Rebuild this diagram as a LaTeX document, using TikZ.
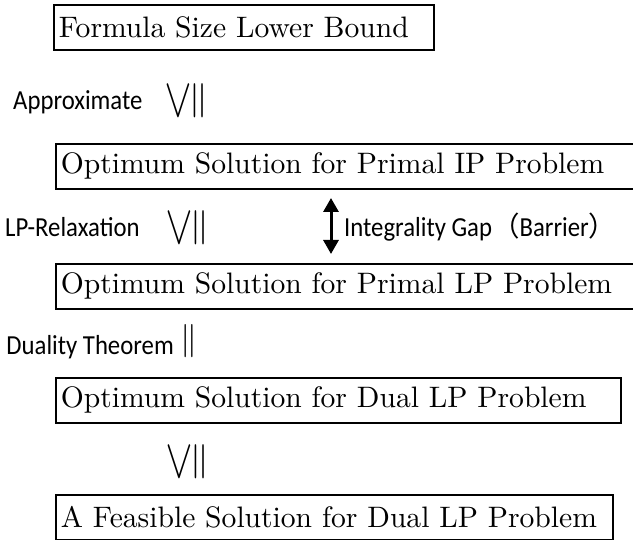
\documentclass[tikz,border=0pt]{standalone}
\usepackage{amssymb}
\usepackage{fontspec}
\newfontfamily\boxfont{lmroman10-regular.otf}
\newfontfamily\carlito{Carlito}[FakeStretch=0.9]
\newfontfamily\cjkfont{Noto Sans CJK JP}
\usetikzlibrary{arrows.meta}
\tikzset{
  boxnode/.style={draw, line width=1.6pt, anchor=north west, minimum height=45pt,
    inner xsep=5pt, inner ysep=0pt, align=left,
    font=\boxfont\fontsize{29.6}{32}\selectfont},
  lab/.style={font=\carlito\fontsize{27.5}{30}\selectfont, inner sep=0pt},
  relsym/.style={inner sep=0pt},
  gaparrow/.style={line width=3pt, {Triangle[length=14pt,width=15pt]}-{Triangle[length=14pt,width=15pt]}}
}
\newcommand{\geqv}{\scalebox{3.9}[5.6]{\rotatebox{90}{$\leqq$}}}
\newcommand{\eqv}{\scalebox{3.4}[5]{\rotatebox{90}{$=$}}}
\begin{document}
\begin{tikzpicture}[x=1pt,y=-1pt]
\useasboundingbox (0,0) rectangle (633,540);
% boxes
\node[boxnode, text width=370pt] (b1) at (53,4) {Formula Size Lower Bound};
\node[boxnode, text width=580pt] (b2) at (55,143) {Optimum Solution for Primal IP Problem};
\node[boxnode, text width=580pt] (b3) at (55,263) {Optimum Solution for Primal LP Problem};
\node[boxnode, text width=555pt] (b4) at (55,377) {Optimum Solution for Dual LP Problem};
\node[boxnode, text width=547pt] (b5) at (55,494) {A Feasible Solution for Dual LP Problem};
% relations
\node[lab, anchor=base west] (l1) at (13,110) {Approximate};
\node[relsym] (r1) at (187,101) {\geqv};
\node[lab, anchor=base west] (l2) at (5,237) {LP-Relaxation};
\node[relsym] (r2) at (188,228) {\geqv};
\node[lab, anchor=base east] (l3) at (174,355) {Duality Theorem};
\node[relsym] (r3) at (191,341) {\eqv};
\node[relsym] (r4) at (188,462) {\geqv};
% integrality gap
\coordinate (gtop) at (331,198);
\coordinate (gbot) at (331,254);
\draw[gaparrow] (gtop) -- (gbot);
\node[lab, anchor=base west] (l4) at (344,237) {Integrality Gap{\cjkfont （}Barrier{\cjkfont ）}};
\end{tikzpicture}
\end{document}
